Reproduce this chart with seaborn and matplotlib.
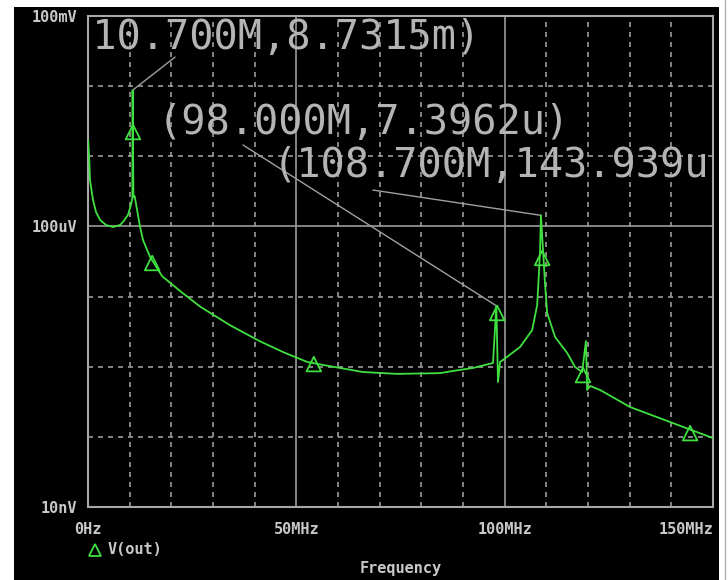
import numpy as np
import pandas as pd
import matplotlib
matplotlib.use("Agg")
import matplotlib.pyplot as plt
import seaborn as sns
from matplotlib.patches import Rectangle
from matplotlib.lines import Line2D
from matplotlib.ticker import FixedLocator, NullFormatter

# ---------------- data ----------------
freq_mhz = [0.05, 0.3, 0.48, 1.2, 1.92, 2.88, 4.3, 6.0, 7.7, 8.4, 9.6, 10.3, 10.65,
            10.7, 10.9, 11.2, 12.5, 13.2, 14.9, 17.8, 22.1, 26.9, 34.1, 41.3, 47.0,
            52.6, 56.4, 66.0, 74.2, 84.5, 87.6, 92.4, 97.2, 98.0, 98.4, 98.9, 99.6,
            103.7, 106.6, 107.8, 108.2, 108.5, 108.7, 109.2, 109.7, 110.2, 112.1,
            115.0, 116.9, 118.6, 119.5, 119.8, 120.5, 122.9, 130.1, 140.4, 150.0]
vout_uv = [1706, 900, 459, 238, 161, 124, 105, 98, 105, 116, 146, 202, 254,
           8731.5, 263, 270, 98, 64, 36.6, 19.5, 12.0, 7.2, 3.9, 2.3, 1.6,
           1.17, 1.06, 0.84, 0.79, 0.81, 0.87, 0.96, 1.13, 7.3962, 0.605, 1.17, 1.25,
           1.91, 3.33, 7.58, 20.3, 46.1, 143.939, 46.1, 14.6, 5.83, 2.65,
           1.57, 0.99, 0.84, 2.32, 0.466, 0.531, 0.466, 0.266, 0.157, 0.096]

marker_mhz = [10.8, 15.4, 54.2, 98.2, 109.0, 118.8, 144.5]
marker_uv = [2218, 30.1, 1.09, 5.83, 35.5, 0.76, 0.113]

# annotations: label, peak point, line end, text anchor
ann_labels = ["(10.700M,8.7315m)", "(98.000M,7.3962u)", "(108.700M,143.939u"]
ann_peak_mhz = [10.7, 98.0, 108.7]
ann_peak_uv = [8731.5, 7.3962, 143.939]
ann_end_mhz = [20.9, 37.2, 68.4]
ann_end_uv = [26000, 1449, 330]
ann_text_mhz = [-4.6, 16.6, 44.2]
ann_text_uv = [48500, 2980, 727]

y_ticks = [1e-8, 1e-4, 1e-1]
y_ticklabels = ["10nV", "100uV", "100mV"]
x_ticks = [0, 50, 100, 150]
x_ticklabels = ["0Hz", "50MHz", "100MHz", "150MHz"]

df = pd.DataFrame({"f": freq_mhz, "v": np.array(vout_uv) * 1e-6})
dm = pd.DataFrame({"f": marker_mhz, "v": np.array(marker_uv) * 1e-6})

# ---------------- figure ----------------
W, H = 728, 580
sns.set_style("dark")
fig = plt.figure(figsize=(W / 100, H / 100), dpi=100, facecolor="white")
plt.rcParams["font.family"] = ["DejaVu Sans Mono", "DejaVu Sans"]

fig.patches.append(Rectangle((14 / W, 0), (719 - 14) / W, (580 - 7) / H,
                             transform=fig.transFigure, facecolor="black",
                             edgecolor="none", zorder=-10))
fig.add_artist(Line2D([725 / W, 725 / W], [0, 1], color="#b0b0b0", lw=1))

L, R, T, B = 88, 713, 16, 507
ax = fig.add_axes([L / W, (H - B) / H, (R - L) / W, (B - T) / H])
ax.set_facecolor("black")

green = "#3fe03f"
grid_col = "#9a9a9a"
txt_col = "#c8c8c8"

sns.lineplot(data=df, x="f", y="v", ax=ax, color=green, lw=1.3,
             estimator=None, sort=False, zorder=3)
sns.scatterplot(data=dm, x="f", y="v", ax=ax, marker="^", s=110,
                facecolor="none", edgecolor=green, linewidth=1.3, zorder=4)

ax.set_yscale("log")
ax.set_ylim(1e-8, 1e-1)
ax.set_xlim(0, 150)

ax.yaxis.set_major_locator(FixedLocator(y_ticks))
ax.set_yticklabels(y_ticklabels)
ax.yaxis.set_minor_locator(FixedLocator([1e-7, 1e-6, 1e-5, 1e-3, 1e-2]))
ax.yaxis.set_minor_formatter(NullFormatter())
ax.xaxis.set_major_locator(FixedLocator(x_ticks))
ax.set_xticklabels(x_ticklabels)
ax.xaxis.set_minor_locator(FixedLocator([m for m in range(10, 150, 10) if m % 50]))

ax.grid(which="major", color=grid_col, lw=1.2, ls="-")
ax.grid(which="minor", color=grid_col, lw=1.2, ls=(0, (3, 3)))
ax.set_axisbelow(True)

for s in ax.spines.values():
    s.set_color("#a8a8a8")
    s.set_linewidth(1.5)

ax.tick_params(axis="y", which="major", length=7, width=1.2, color="#a8a8a8",
               labelcolor=txt_col, labelsize=11, pad=1)
ax.tick_params(axis="x", which="major", length=4, width=1.2, color="#a8a8a8",
               labelcolor=txt_col, labelsize=11, pad=7)
ax.tick_params(which="minor", length=0)
for lab in ax.get_xticklabels() + ax.get_yticklabels():
    lab.set_fontweight("bold")
ax.get_xticklabels()[-1].set_horizontalalignment("right")
ax.set_ylabel("")
ax.set_xlabel("Frequency", color=txt_col, fontsize=11, fontweight="bold", labelpad=17)

# annotations
for lab, pf, pv, ef, ev, tf, tv in zip(ann_labels, ann_peak_mhz, ann_peak_uv,
                                       ann_end_mhz, ann_end_uv, ann_text_mhz, ann_text_uv):
    ax.plot([pf, ef], [pv * 1e-6, ev * 1e-6], color="#a0a0a0", lw=1, zorder=2)
    ax.text(tf, tv * 1e-6, lab, color="#b4b4b4", fontsize=29, va="center",
            ha="left", clip_on=True, zorder=5)

# legend
fig.add_artist(Line2D([95 / W], [1 - 550 / H], marker="^", markersize=9,
                      markerfacecolor="none", markeredgecolor=green,
                      markeredgewidth=1.3, linestyle="none"))
fig.text(108 / W, 1 - 550 / H, "V(out)", color=txt_col, fontsize=11,
         fontweight="bold", va="center", ha="left")

fig.savefig("out.png", dpi=100, facecolor="white")
